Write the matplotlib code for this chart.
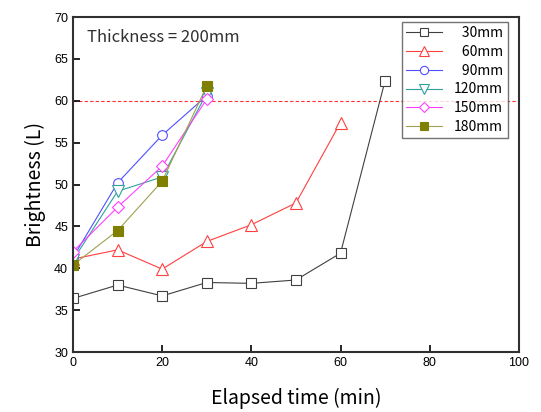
import matplotlib
matplotlib.use('Agg')
import matplotlib.pyplot as plt

# data
t_30 = [0, 10, 20, 30, 40, 50, 60, 70]
b_30 = [36.4, 38.0, 36.7, 38.3, 38.2, 38.6, 41.8, 62.4]
t_60 = [0, 10, 20, 30, 40, 50, 60]
b_60 = [41.1, 42.2, 39.9, 43.2, 45.2, 47.8, 57.4]
t_short = [0, 10, 20, 30]
b_90 = [41.3, 50.2, 55.9, 60.6]
b_120 = [41.0, 49.2, 50.9, 60.9]
b_150 = [42.0, 47.3, 52.2, 60.2]
b_180 = [40.4, 44.5, 50.4, 61.8]
labels = ['\u200730mm', '\u200760mm', '\u200790mm', '120mm', '150mm', '180mm']
limit_line = 60

label_font = ['Noto Sans CJK KR', 'DejaVu Sans']
tick_font = 'Liberation Sans'

fig = plt.figure(figsize=(5.41, 4.12), dpi=100)
ax = fig.add_axes([0.135, 0.1456, 0.824, 0.813])

ax.axhline(limit_line, color='#ff3030', lw=0.8, ls=(0, (3, 2)), zorder=1)

ax.plot(t_30, b_30, color='#404040', lw=0.8, marker='s', ms=6.5, mfc='white', mec='#404040', mew=0.8, label=labels[0])
ax.plot(t_60, b_60, color='#ff4040', lw=0.8, marker='^', ms=8, mfc='white', mec='#ff4040', mew=0.8, label=labels[1])
ax.plot(t_short, b_90, color='#5050ff', lw=0.8, marker='o', ms=7, mfc='white', mec='#5050ff', mew=0.8, label=labels[2])
ax.plot(t_short, b_120, color='#30a0a0', lw=0.8, marker='v', ms=8, mfc='white', mec='#30a0a0', mew=0.8, label=labels[3])
ax.plot(t_short, b_150, color='#ff40ff', lw=0.8, marker='D', ms=6, mfc='white', mec='#ff40ff', mew=0.8, label=labels[4])
ax.plot(t_short, b_180, color='#a0a050', lw=0.8, marker='s', ms=6.5, mfc='#808000', mec='#808000', mew=0.8, label=labels[5])

ax.set_xlim(0, 100)
ax.set_ylim(30, 70)
ax.set_xticks([0, 20, 40, 60, 80, 100])
ax.set_yticks(range(30, 71, 5))
ax.tick_params(direction='in', length=5, width=1.2, labelsize=9, top=False, right=False)
for lab in ax.get_xticklabels() + ax.get_yticklabels():
    lab.set_fontfamily(tick_font)
for sp in ax.spines.values():
    sp.set_linewidth(1.5)
    sp.set_color('#303030')

ax.set_xlabel('Elapsed time (min)', fontsize=14, family=label_font, labelpad=14)
ax.set_ylabel('Brightness (L)', fontsize=14, family=label_font, labelpad=6)

ax.text(0.032, 0.94, 'Thickness = 200mm', transform=ax.transAxes, fontsize=12,
        family=label_font, color='#303030', va='center', ha='left')

leg = ax.legend(loc='upper right', bbox_to_anchor=(0.975, 0.985), borderaxespad=0,
                fancybox=False, edgecolor='#505050', prop={'family': label_font, 'size': 10},
                handlelength=2.6, labelspacing=0.34, borderpad=0.3, handletextpad=0.8,
                markerscale=0.85)
leg.get_frame().set_linewidth(1.0)

fig.savefig('out.png', dpi=100)
